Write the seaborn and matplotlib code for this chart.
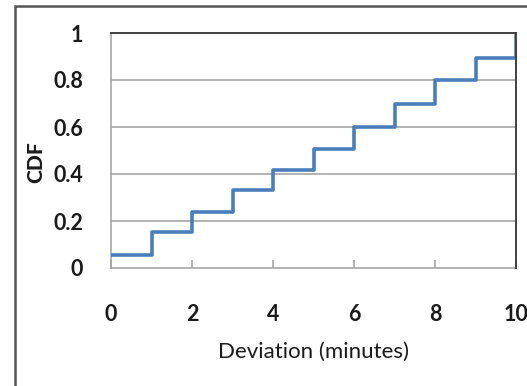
import matplotlib
matplotlib.use("Agg")
import matplotlib.pyplot as plt
import seaborn as sns
import pandas as pd
from matplotlib.patches import Rectangle

deviation = [0, 1, 2, 3, 4, 5, 6, 7, 8, 9, 10]
cdf = [0.055, 0.153, 0.238, 0.33, 0.417, 0.506, 0.60, 0.70, 0.80, 0.895, 1.0]
x_ticks = [0, 2, 4, 6, 8, 10]
y_ticks = [0, 0.2, 0.4, 0.6, 0.8, 1]
y_labels = ["0", "0.2", "0.4", "0.6", "0.8", "1"]

sns.set_theme(style="white")
plt.rcParams['font.family'] = ['Lato', 'DejaVu Sans']

df = pd.DataFrame({"Deviation": deviation, "CDF": cdf})

fig = plt.figure(figsize=(5.27, 3.86), dpi=100)
ax = fig.add_axes([111/527, 1-268/386, (516-111)/527, (268-33)/386])

sns.lineplot(data=df, x="Deviation", y="CDF", drawstyle="steps-post",
             color="#4a7ebb", linewidth=2.6, ax=ax)
ax.set_xlim(0, 10)
ax.set_ylim(0, 1)
ax.set_xticks(x_ticks)
ax.set_yticks(y_ticks)
ax.set_yticklabels(y_labels)
for y in [0.2, 0.4, 0.6, 0.8]:
    ax.axhline(y, color="#a6a6a6", linewidth=1.2, zorder=0)
ax.lines[0].set_zorder(3)

for s in ["left", "bottom"]:
    ax.spines[s].set_color("#a6a6a6")
    ax.spines[s].set_linewidth(1.2)
for s in ["top", "right"]:
    ax.spines[s].set_color("#404040")
    ax.spines[s].set_linewidth(1.4)
ax.spines["top"].set_zorder(4)
ax.spines["right"].set_zorder(4)

ax.tick_params(axis="x", direction="in", length=6, width=1.2, color="#a6a6a6",
               pad=26, labelsize=15.5, bottom=True)
ax.tick_params(axis="y", length=0, pad=20, labelsize=15.5, left=False)
for lab in ax.get_xticklabels() + ax.get_yticklabels():
    lab.set_fontweight("bold")
    lab.set_color("#1a1a1a")

ax.set_xlabel("Deviation (minutes)", fontsize=16, color="#1a1a1a", labelpad=12)
ax.set_ylabel("CDF", fontsize=15, fontweight="black", color="#1a1a1a")
ax.yaxis.set_label_coords(-0.163, 0.45)

fig.patches.append(Rectangle((15/527, -0.1), 1.2, 1.1 - 6/386,
                             transform=fig.transFigure, fill=False,
                             edgecolor="#555555", linewidth=1.8))

fig.savefig("out.png", dpi=100)
